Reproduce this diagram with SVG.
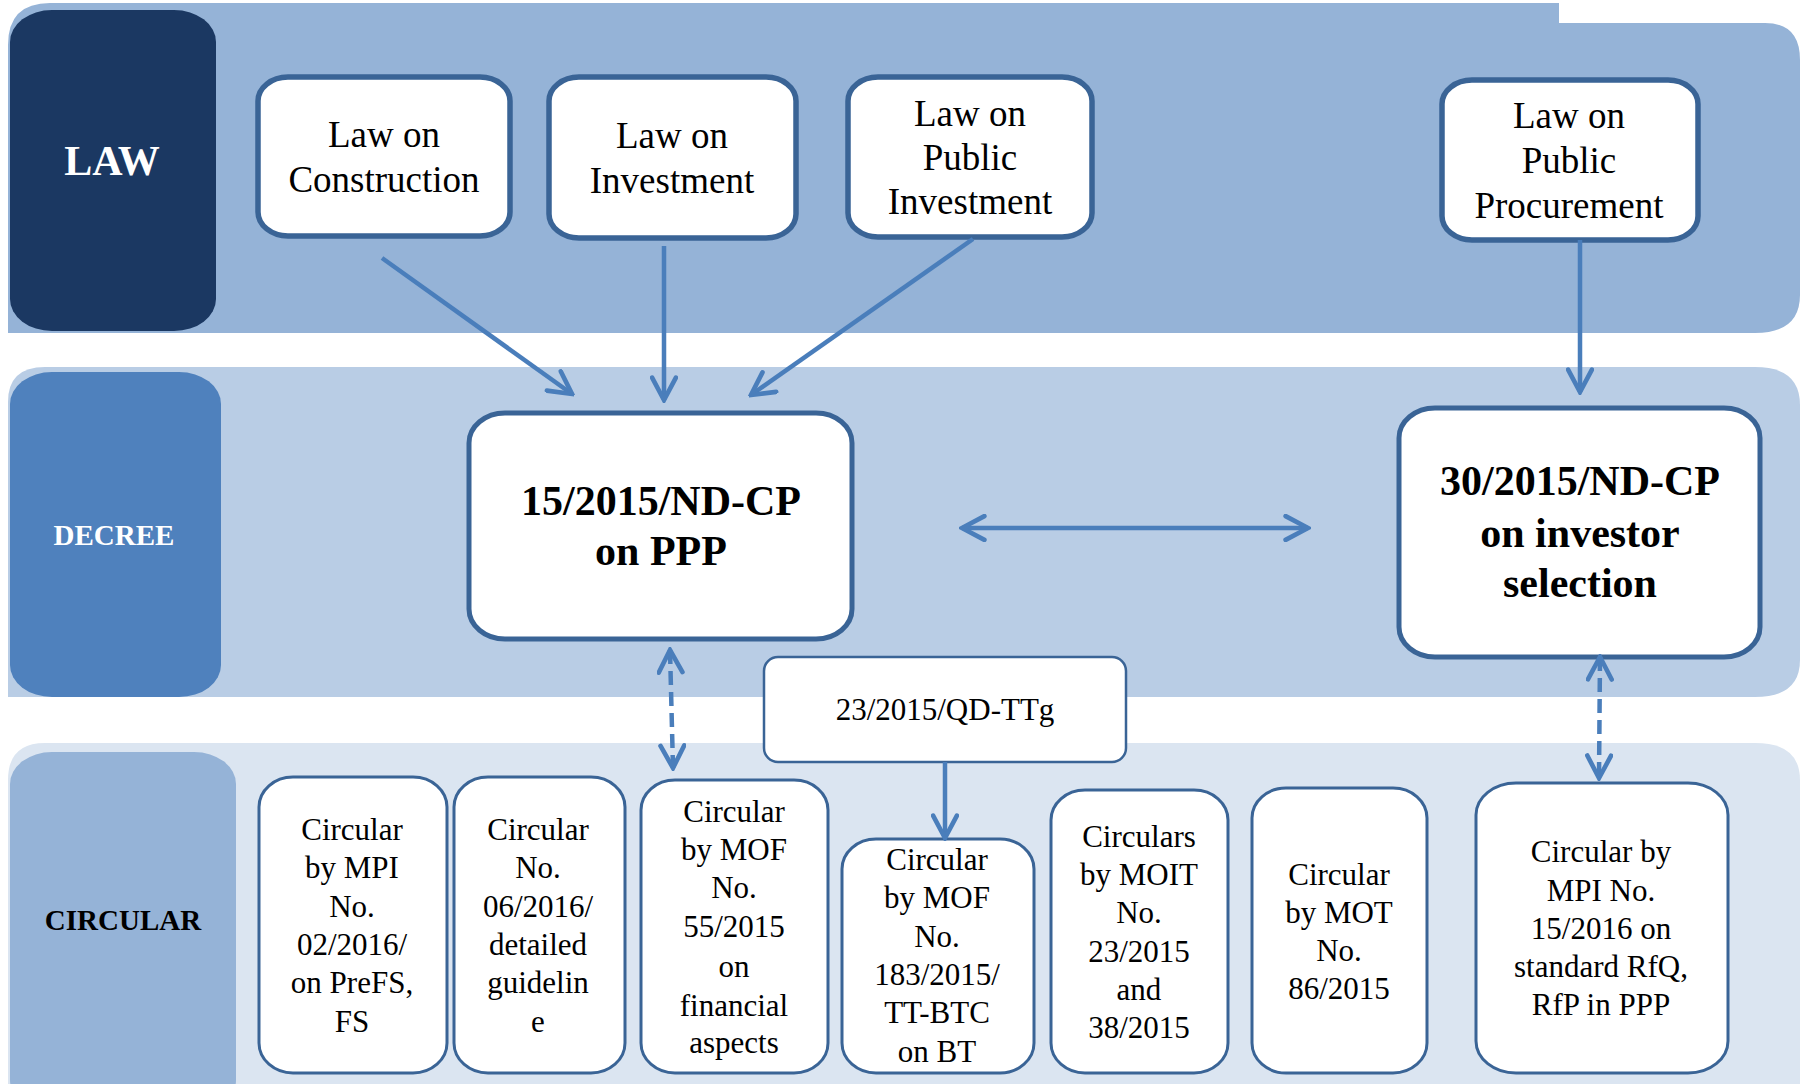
<svg xmlns="http://www.w3.org/2000/svg" width="1800" height="1084" viewBox="0 0 1800 1084">
<style>
text{font-family:"Liberation Serif","Times New Roman",serif;fill:#000;text-anchor:middle}
.lbl{font-weight:bold;fill:#fff}
.law rect{fill:#fff;stroke:#3A6496;stroke-width:5.5}
.law text{font-size:37px}
.dec rect{fill:#fff;stroke:#3A6496;stroke-width:5}
.dec text{font-size:42px;font-weight:bold}
.cir rect{fill:#fff;stroke:#3A6496;stroke-width:3}
.cir text{font-size:31px}
.conn line{stroke:#4A7EBB;stroke-width:4.5;fill:none}
.dash{stroke-dasharray:14 7}
</style>
<defs>
<marker id="ah" viewBox="0 0 20 20" refX="18" refY="10" markerWidth="28" markerHeight="28" markerUnits="userSpaceOnUse" orient="auto-start-reverse">
<path d="M2,1.5 L18,10 L2,18.5" fill="none" stroke="#4A7EBB" stroke-width="3.3" stroke-dasharray="none" stroke-linecap="round"/>
</marker>
</defs>
<rect width="1800" height="1084" fill="#fff"/>
<g id="bands">
<path d="M8,45 Q8,3 50,3 L1559,3 L1559,23 L1765,23 Q1800,23 1800,60 L1800,295 Q1800,333 1755,333 L8,333 Z" fill="#95B3D7"/>
<path d="M8,402 Q8,367 45,367 L1755,367 Q1800,367 1800,405 L1800,660 Q1800,697 1755,697 L8,697 Z" fill="#B9CDE5"/>
<path d="M8,780 Q8,743 45,743 L1755,743 Q1800,743 1800,780 L1800,1084 L8,1084 Z" fill="#DBE5F1"/>
</g>
<g id="label-law"><rect x="10" y="10" width="206" height="321" rx="42" ry="32" fill="#1B3862"/><text class="lbl" x="112" y="175" style="font-size:42px">LAW</text></g>
<g id="label-decree"><rect x="10" y="372" width="211" height="325" rx="42" ry="32" fill="#4F81BD"/><text class="lbl" x="114" y="545" style="font-size:29px">DECREE</text></g>
<g id="label-circular"><rect x="10" y="752" width="226" height="360" rx="42" ry="32" fill="#95B3D7"/><text x="123" y="930" style="font-size:29px;font-weight:bold">CIRCULAR</text></g>

<g id="law-construction" class="law"><rect x="258" y="77" width="252" height="159" rx="30" ry="24"/><text x="384" y="147">Law on</text><text x="384" y="192">Construction</text></g>
<g id="law-investment" class="law"><rect x="549" y="77" width="247" height="161" rx="30" ry="24"/><text x="672" y="148">Law on</text><text x="672" y="193">Investment</text></g>
<g id="law-public-investment" class="law"><rect x="848" y="77" width="244" height="160" rx="30" ry="24"/><text x="970" y="126">Law on</text><text x="970" y="170">Public</text><text x="970" y="214">Investment</text></g>
<g id="law-public-procurement" class="law"><rect x="1442" y="80" width="256" height="160" rx="30" ry="24"/><text x="1569" y="128">Law on</text><text x="1569" y="173">Public</text><text x="1569" y="218">Procurement</text></g>

<g id="decree-15" class="dec"><rect x="469" y="413" width="383" height="226" rx="36" ry="30"/><text x="661" y="515">15/2015/ND-CP</text><text x="661" y="565">on PPP</text></g>
<g id="decree-30" class="dec"><rect x="1399" y="408" width="361" height="249" rx="36" ry="30"/><text x="1580" y="495">30/2015/ND-CP</text><text x="1580" y="547">on investor</text><text x="1580" y="597">selection</text></g>

<g id="qd-23" class="cir"><rect x="764" y="657" width="362" height="105" rx="14" style="stroke-width:2.5"/><text x="945" y="720">23/2015/QD-TTg</text></g>

<g id="circ-1" class="cir"><rect x="259" y="777" width="188" height="296" rx="34" ry="30"/><text x="352" y="840">Circular</text><text x="352" y="878">by MPI</text><text x="352" y="917">No.</text><text x="352" y="955">02/2016/</text><text x="352" y="993">on PreFS,</text><text x="352" y="1032">FS</text></g>
<g id="circ-2" class="cir"><rect x="454" y="777" width="171" height="296" rx="34" ry="30"/><text x="538" y="840">Circular</text><text x="538" y="878">No.</text><text x="538" y="917">06/2016/</text><text x="538" y="955">detailed</text><text x="538" y="993">guidelin</text><text x="538" y="1032">e</text></g>
<g id="circ-3" class="cir"><rect x="641" y="780" width="187" height="293" rx="34" ry="30"/><text x="734" y="822">Circular</text><text x="734" y="860">by MOF</text><text x="734" y="898">No.</text><text x="734" y="937">55/2015</text><text x="734" y="977">on</text><text x="734" y="1016">financial</text><text x="734" y="1053">aspects</text></g>
<g id="circ-4" class="cir"><rect x="842" y="839" width="192" height="234" rx="34" ry="30"/><text x="937" y="870">Circular</text><text x="937" y="908">by MOF</text><text x="937" y="947">No.</text><text x="937" y="985">183/2015/</text><text x="937" y="1023">TT-BTC</text><text x="937" y="1062">on BT</text></g>
<g id="circ-5" class="cir"><rect x="1051" y="790" width="177" height="283" rx="34" ry="30"/><text x="1139" y="847">Circulars</text><text x="1139" y="885">by MOIT</text><text x="1139" y="923">No.</text><text x="1139" y="962">23/2015</text><text x="1139" y="1000">and</text><text x="1139" y="1038">38/2015</text></g>
<g id="circ-6" class="cir"><rect x="1252" y="788" width="175" height="285" rx="34" ry="30"/><text x="1339" y="885">Circular</text><text x="1339" y="923">by MOT</text><text x="1339" y="961">No.</text><text x="1339" y="999">86/2015</text></g>
<g id="circ-7" class="cir"><rect x="1476" y="783" width="252" height="290" rx="40" ry="32"/><text x="1601" y="862">Circular by</text><text x="1601" y="901">MPI No.</text><text x="1601" y="939">15/2016 on</text><text x="1601" y="977">standard RfQ,</text><text x="1601" y="1015">RfP in PPP</text></g>

<g id="connectors" class="conn">
<line x1="382" y1="258" x2="572" y2="394" marker-end="url(#ah)"/>
<line x1="664" y1="246" x2="664" y2="400" marker-end="url(#ah)"/>
<line x1="973" y1="239" x2="751" y2="395" marker-end="url(#ah)"/>
<line x1="1580" y1="240" x2="1580" y2="392" marker-end="url(#ah)"/>
<line x1="962" y1="528" x2="1308" y2="528" marker-start="url(#ah)" marker-end="url(#ah)"/>
<line class="dash" x1="670" y1="650" x2="673" y2="768" marker-start="url(#ah)" marker-end="url(#ah)"/>
<line class="dash" x1="1600" y1="657" x2="1599" y2="778" marker-start="url(#ah)" marker-end="url(#ah)"/>
<line x1="945" y1="762" x2="945" y2="838" marker-end="url(#ah)"/>
</g>
</svg>
